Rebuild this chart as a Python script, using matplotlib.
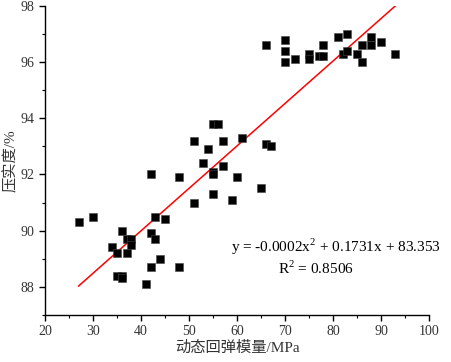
import numpy as np
import matplotlib
matplotlib.use("Agg")
from matplotlib import pyplot as plt
from matplotlib.ticker import MultipleLocator

# measured points: dynamic resilient modulus (MPa) vs compaction degree (%)
mod = [27, 30, 34, 35, 35, 36, 36, 36, 37, 37, 38, 38,
       41, 42, 42, 42, 43, 43, 44, 45, 48, 48,
       51, 51, 53, 54, 55, 56, 55, 55, 55, 57, 57, 59, 60, 61, 65, 66, 67,
       66, 70, 70, 70, 72, 75, 75, 77, 78, 78, 81, 82, 83, 83, 85, 86, 86,
       88, 88, 90, 93]
comp = [90.3, 90.5, 89.4, 88.4, 89.2, 90.0, 88.4, 88.3, 89.7, 89.2, 89.7, 89.5,
        88.1, 92.0, 89.9, 88.7, 90.5, 89.7, 89.0, 90.4, 91.9, 88.7,
        93.2, 91.0, 92.4, 92.9, 93.8, 93.8, 92.1, 92.0, 91.3, 93.2, 92.3, 91.1, 91.9, 93.3, 91.5, 93.1, 93.0,
        96.6, 96.8, 96.4, 96.0, 96.1, 96.3, 96.1, 96.2, 96.2, 96.6, 96.9, 96.3, 97.0, 96.4, 96.3, 96.0, 96.6,
        96.9, 96.6, 96.7, 96.3]

# fitted trend line as drawn
fit_x = [27, 93]
fit_y = [88.03, 98.0]

eq_text = "y = -0.0002x$^2$ + 0.1731x + 83.353"
r2_text = "R$^2$ = 0.8506"

plt.rcParams['mathtext.fontset'] = 'custom'
plt.rcParams['mathtext.rm'] = 'Liberation Serif'
serif = ['Liberation Serif', 'Noto Sans CJK SC']

fig = plt.figure(figsize=(4.51, 3.62), dpi=100)
ax = fig.add_axes([0.0998, 0.130, 0.8516, 0.854])

ax.scatter(mod, comp, marker='s', s=26, c='black', edgecolors='#444444', linewidths=0.4, zorder=3)
ax.plot(fit_x, fit_y, color='red', lw=1.1, zorder=2)

ax.set_xlim(20, 100)
ax.set_ylim(87, 98)
ax.xaxis.set_major_locator(MultipleLocator(10))
ax.xaxis.set_minor_locator(MultipleLocator(5))
ax.yaxis.set_major_locator(MultipleLocator(2))
ax.yaxis.set_minor_locator(MultipleLocator(1))
ax.spines['top'].set_visible(False)
ax.spines['right'].set_visible(False)
for s in ['left', 'bottom']:
    ax.spines[s].set_linewidth(1.0)
ax.tick_params(which='major', direction='out', length=4, width=1.0, labelsize=10)
ax.tick_params(which='minor', direction='out', length=2.5, width=0.8)
for lab in ax.get_xticklabels() + ax.get_yticklabels():
    lab.set_family(serif)
    lab.set_color('#333333')

ax.set_xlabel("动态回弹模量/MPa", family=serif, fontsize=11, color='#333333', labelpad=2)
ax.set_ylabel("压实度/%", family=serif, fontsize=11, color='#333333', labelpad=2)

ax.text(0.758, 0.22, eq_text, transform=ax.transAxes, ha='center', va='center',
        family=serif, fontsize=11)
ax.text(0.706, 0.152, r2_text, transform=ax.transAxes, ha='center', va='center',
        family=serif, fontsize=11)

fig.savefig("out.png", dpi=100)
